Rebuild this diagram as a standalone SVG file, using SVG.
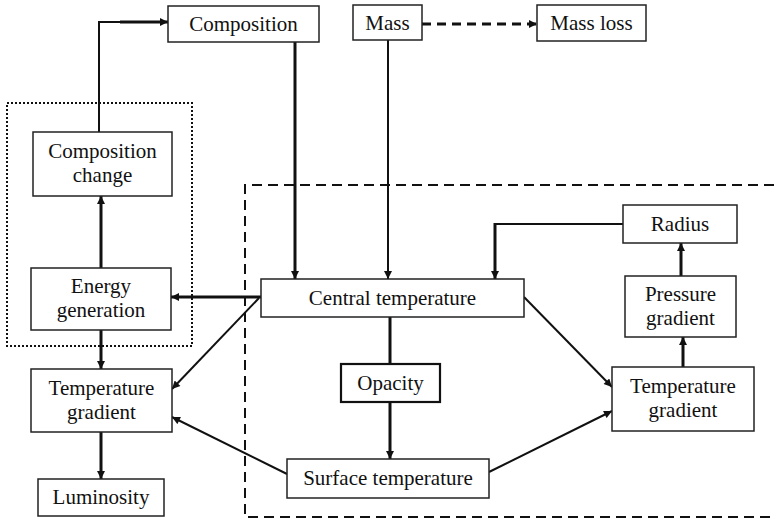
<svg xmlns="http://www.w3.org/2000/svg" width="774" height="521" viewBox="0 0 774 521">
<style>
.box{fill:#fff;stroke:#222;stroke-width:1.5}
.t{font-size:21px;fill:#111;text-anchor:middle}
.c{fill:none;stroke:#111;stroke-width:2}
.k{fill:none;stroke:#111;stroke-width:3}
</style>
<defs>
<marker id="ah" viewBox="0 0 10 10" refX="10" refY="5" markerWidth="9" markerHeight="8" markerUnits="userSpaceOnUse" orient="auto"><path d="M0,0 L10,5 L0,10 Z" fill="#111"/></marker>
</defs>
<g id="regions">
<rect x="7" y="103" width="185" height="243" fill="none" stroke="#111" stroke-width="2" stroke-dasharray="2,2"/>
<path d="M774,185 H245 V517 H774" fill="none" stroke="#111" stroke-width="2" stroke-dasharray="10,6"/>
</g>
<g id="connectors">
<path class="c" d="M99,132 V22 H120"/>
<path class="k" d="M120,22 H168" marker-end="url(#ah)"/>
<path class="k" d="M295,42 V279" marker-end="url(#ah)"/>
<path class="c" d="M388,40 V279" marker-end="url(#ah)"/>
<path class="k" d="M422,24 H537" stroke-dasharray="9,6" marker-end="url(#ah)"/>
<path class="k" d="M101,268 V196" marker-end="url(#ah)"/>
<path class="k" d="M101,330 V369" marker-end="url(#ah)"/>
<path class="k" d="M101,432 V479" marker-end="url(#ah)"/>
<path class="k" d="M261,297 H171" marker-end="url(#ah)"/>
<path class="c" d="M259,298 L172,389" marker-end="url(#ah)"/>
<path class="c" d="M287,474 L172,417" marker-end="url(#ah)"/>
<path class="k" d="M390,317 V364"/>
<path class="k" d="M390,402 V459" marker-end="url(#ah)"/>
<path class="c" d="M524,297 L612,387" marker-end="url(#ah)"/>
<path class="c" d="M489,472 L612,411" marker-end="url(#ah)"/>
<path class="k" d="M683,367 V337" marker-end="url(#ah)"/>
<path class="k" d="M681,276 V243" marker-end="url(#ah)"/>
<path class="c" d="M623,224 H495"/>
<path class="k" d="M495,223 V279" marker-end="url(#ah)"/>
</g>
<g font-family="'Liberation Serif', 'Times New Roman', 'DejaVu Serif', serif">
<g id="composition"><rect class="box" x="168" y="6" width="151" height="36"/><text class="t" x="243.5" y="31">Composition</text></g>
<g id="mass"><rect class="box" x="353" y="5" width="69" height="35"/><text class="t" x="387.5" y="30">Mass</text></g>
<g id="massloss"><rect class="box" x="537" y="5" width="109" height="36"/><text class="t" x="591.5" y="30">Mass loss</text></g>
<g id="compchange"><rect class="box" x="33" y="132" width="139" height="64"/><text class="t" x="102.5" y="158">Composition</text><text class="t" x="102.5" y="182">change</text></g>
<g id="energy"><rect class="box" x="31" y="268" width="140" height="62"/><text class="t" x="101" y="293">Energy</text><text class="t" x="101" y="317">generation</text></g>
<g id="tgradleft"><rect class="box" x="31" y="369" width="141" height="63"/><text class="t" x="101.5" y="395">Temperature</text><text class="t" x="101.5" y="419">gradient</text></g>
<g id="luminosity"><rect class="box" x="38" y="479" width="126" height="37"/><text class="t" x="101" y="504">Luminosity</text></g>
<g id="central"><rect class="box" x="261" y="279" width="263" height="38"/><text class="t" x="392.5" y="305">Central temperature</text></g>
<g id="opacity"><rect x="341" y="364" width="99" height="38" fill="#fff" stroke="#111" stroke-width="2.2"/><text class="t" x="390.5" y="390">Opacity</text></g>
<g id="surface"><rect class="box" x="287" y="459" width="202" height="39"/><text class="t" x="388" y="485">Surface temperature</text></g>
<g id="tgradright"><rect class="box" x="612" y="367" width="142" height="64"/><text class="t" x="683" y="393">Temperature</text><text class="t" x="683" y="417">gradient</text></g>
<g id="pressure"><rect class="box" x="625" y="276" width="111" height="61"/><text class="t" x="680.5" y="301">Pressure</text><text class="t" x="680.5" y="325">gradient</text></g>
<g id="radius"><rect class="box" x="623" y="205" width="114" height="38"/><text class="t" x="680" y="231">Radius</text></g>
</g>
</svg>
